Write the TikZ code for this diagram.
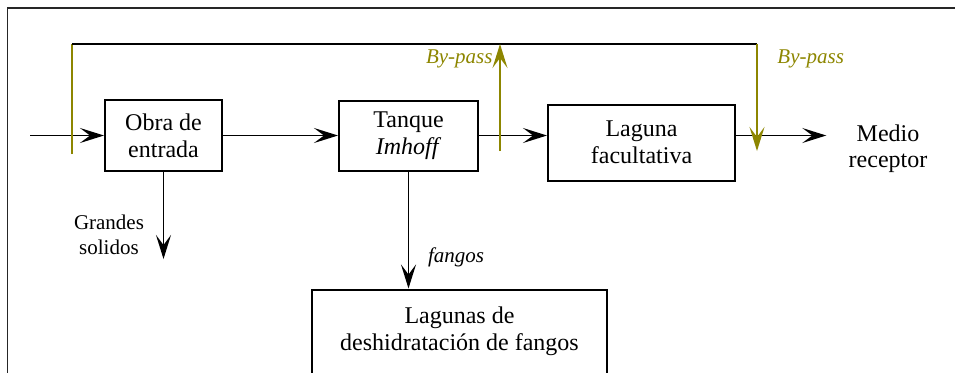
\documentclass[tikz,border=0pt]{standalone}
\usepackage{fontspec}
\setmainfont{Liberation Serif}
\usetikzlibrary{positioning,arrows.meta}

\begin{document}
\begin{tikzpicture}[x=0.5pt, y=-0.5pt,
  caja/.style={shape=rectangle, draw, line width=1pt, align=center, font=\fontsize{12}{13.5}\selectfont},
  texto/.style={align=center, font=\fontsize{12}{13}\selectfont},
  nota/.style={align=center, font=\fontsize{10.5}{12.5}\selectfont},
  flecha/.style={-{Stealth[length=12pt, width=7.5pt, inset=5pt]}, line width=0.85pt},
  paso/.style={draw=olive, line width=0.8pt},
  pasoflecha/.style={paso, -{Stealth[length=12pt, width=7.5pt, inset=5pt]}}]
\useasboundingbox (0,0) rectangle (955,372);
\draw [black!85, line width=0.7pt] (7.5,8) rectangle (1000,420);

\node [caja, minimum width=58.5pt, minimum height=35.5pt] (obra) at (163.5,135.5) {Obra de\\entrada};
\node [caja, right=57.5pt of obra, minimum width=69.5pt, minimum height=35pt] (tanque) {Tanque\\\textit{Imhoff}};
\node [caja, right=34pt of tanque, yshift=-3.5pt, minimum width=93.5pt, minimum height=38pt] (laguna) {Laguna\\facultativa};
\node [caja, below=58.5pt of tanque, xshift=25.5pt, minimum width=147.5pt, minimum height=42pt] (lagunas) {Lagunas de\\deshidratación de fangos};
\node [texto, inner xsep=11pt] (medio) at (888,149) {Medio\\receptor};

\coordinate (entrada) at (30,135.5);
\coordinate (solidos) at ([yshift=-43.5pt]obra.south);
\coordinate (bpa) at (72,154);
\coordinate (bpb) at (72,44);
\coordinate (bpc) at (757,44);
\coordinate (bpd) at (757,151);
\coordinate (bpe) at (500,151);
\coordinate (bpf) at (500,44);

\draw [flecha] (entrada) -- (obra.west);
\draw [flecha] (obra.east) -- (tanque.west);
\draw [flecha] (tanque.east) -- (tanque.east -| laguna.west);
\draw [flecha] (tanque.east -| laguna.east) -- (tanque.east -| medio.west);
\draw [flecha] (obra.south) -- (solidos) node [nota, pos=0.72, left=6pt] {Grandes\\solidos};
\draw [flecha] (tanque.south) -- (tanque.south |- lagunas.north) node [nota, pos=0.73, right=6pt] {\textit{fangos}};

\draw [paso] (bpa) -- (bpb);
\draw [line width=0.7pt] (bpb) -- (bpc);
\draw [pasoflecha] (bpc) -- (bpd) node [nota, text=olive, pos=0.14, right=6.5pt] {\textit{By-pass}};
\draw [pasoflecha] (bpe) -- (bpf) node [nota, text=olive, pos=0.86, left] {\textit{By-pass}};
\end{tikzpicture}
\end{document}
